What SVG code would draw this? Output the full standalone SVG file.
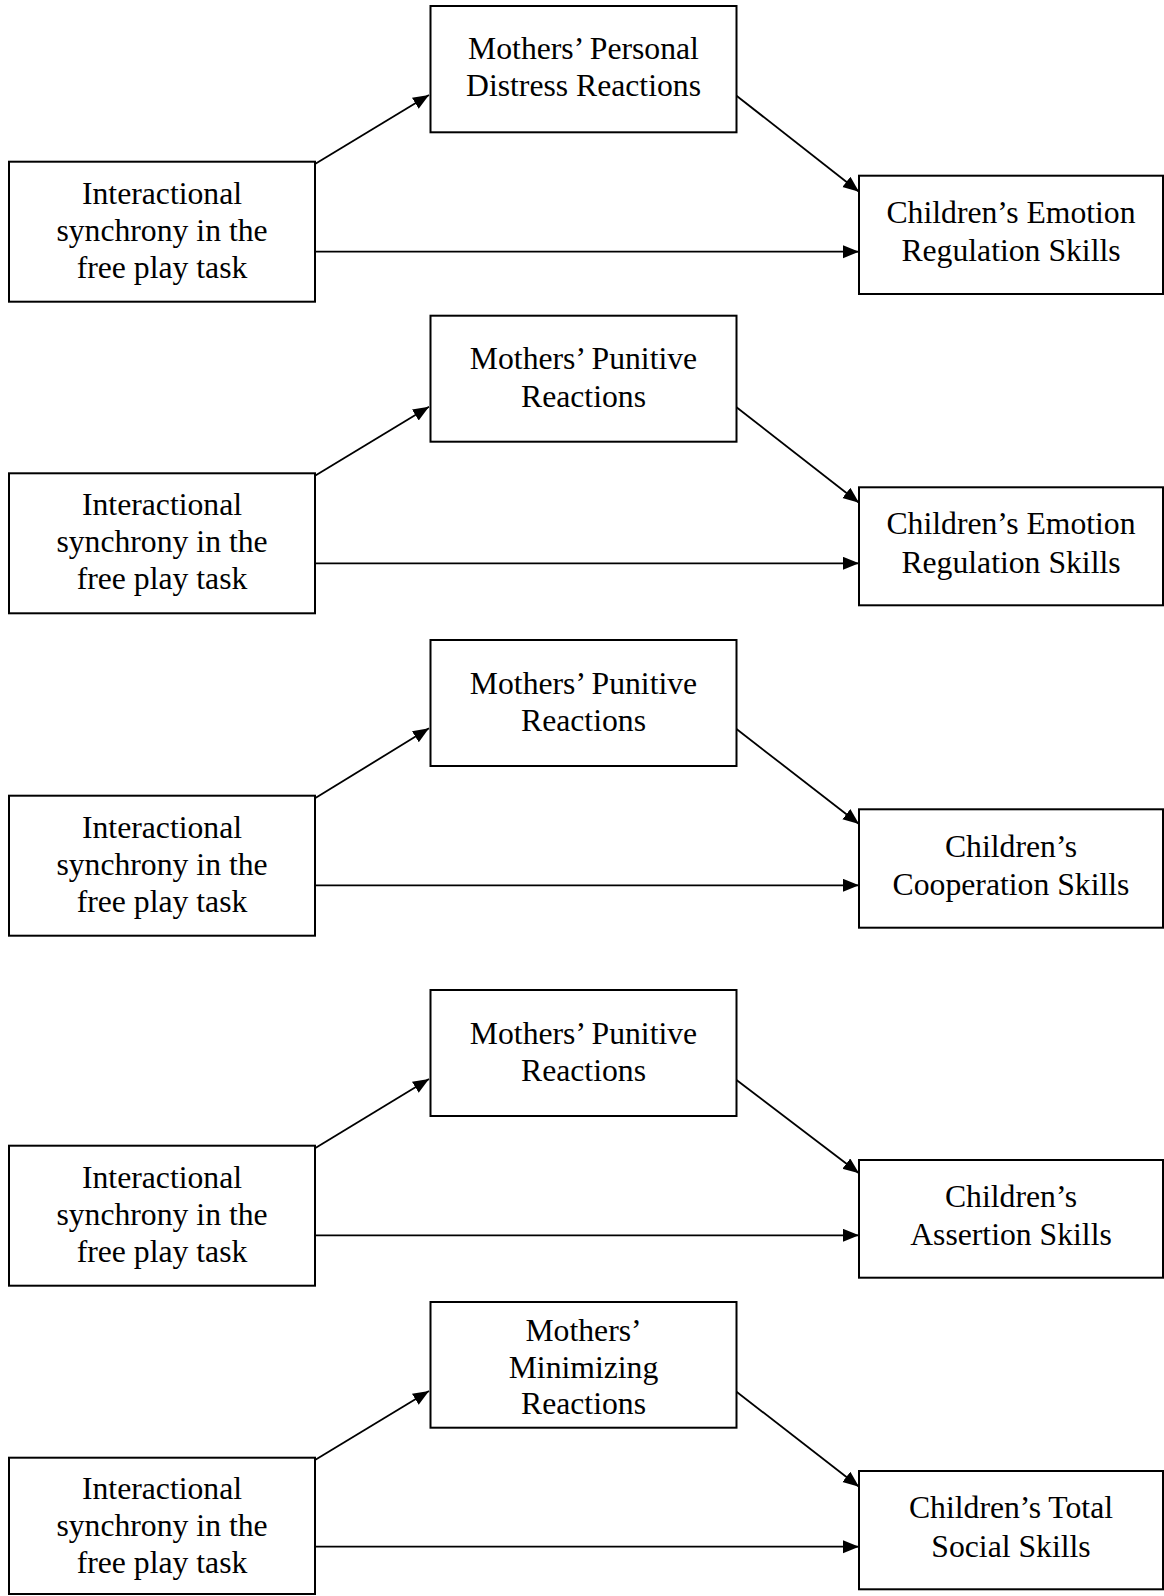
<svg xmlns="http://www.w3.org/2000/svg" width="1164" height="1596" viewBox="0 0 1164 1596">
<style>
  .box { fill: #ffffff; stroke: #000000; stroke-width: 2; }
  .lbl { font-family: "Liberation Serif", "Times New Roman", serif; font-size: 31.7px; fill: #000000; text-anchor: middle; }
  .conn { stroke: #000000; stroke-width: 1.8; fill: none; marker-end: url(#arr); }
</style>
<defs>
  <marker id="arr" markerUnits="userSpaceOnUse" markerWidth="16" markerHeight="14" refX="16" refY="6.5" orient="auto">
    <path d="M0,0 L16,6.5 L0,13 z" fill="#000000"/>
  </marker>
</defs>
<rect width="1164" height="1596" fill="#ffffff"/>

<g id="connectors">
  <line class="conn" x1="315" y1="164" x2="429" y2="95"/>
  <line class="conn" x1="736.5" y1="95.7" x2="859" y2="191.7"/>
  <line class="conn" x1="315" y1="251.7" x2="859" y2="251.7"/>

  <line class="conn" x1="315" y1="475.7" x2="429" y2="406.7"/>
  <line class="conn" x1="736.5" y1="407.3" x2="859" y2="502.7"/>
  <line class="conn" x1="315" y1="563.3" x2="859" y2="563.3"/>

  <line class="conn" x1="315" y1="798.3" x2="429" y2="728.3"/>
  <line class="conn" x1="736.5" y1="729" x2="859" y2="824"/>
  <line class="conn" x1="315" y1="885.3" x2="859" y2="885.3"/>

  <line class="conn" x1="315" y1="1148.3" x2="429" y2="1079"/>
  <line class="conn" x1="736.5" y1="1080" x2="859" y2="1173.3"/>
  <line class="conn" x1="315" y1="1235.3" x2="859" y2="1235.3"/>

  <line class="conn" x1="315" y1="1460" x2="429" y2="1391"/>
  <line class="conn" x1="736.5" y1="1391.7" x2="859" y2="1486.7"/>
  <line class="conn" x1="315" y1="1546.7" x2="859" y2="1546.7"/>
</g>

<!-- Block 1 -->
<g id="sync1">
  <rect class="box" x="9" y="161.7" width="306" height="140"/>
  <text class="lbl" x="162" y="204">Interactional</text>
  <text class="lbl" x="162" y="241">synchrony in the</text>
  <text class="lbl" x="162" y="278">free play task</text>
</g>
<g id="mother1">
  <rect class="box" x="430.5" y="6" width="306" height="126.3"/>
  <text class="lbl" x="583.5" y="58.5">Mothers’ Personal</text>
  <text class="lbl" x="583.5" y="95.5">Distress Reactions</text>
</g>
<g id="child1">
  <rect class="box" x="859" y="175.7" width="304" height="118.3"/>
  <text class="lbl" x="1011" y="222.5">Children’s Emotion</text>
  <text class="lbl" x="1011" y="260.5">Regulation Skills</text>
</g>

<!-- Block 2 -->
<g id="sync2">
  <rect class="box" x="9" y="473.3" width="306" height="140"/>
  <text class="lbl" x="162" y="515">Interactional</text>
  <text class="lbl" x="162" y="552">synchrony in the</text>
  <text class="lbl" x="162" y="589">free play task</text>
</g>
<g id="mother2">
  <rect class="box" x="430.5" y="315.7" width="306" height="126"/>
  <text class="lbl" x="583.5" y="369.3">Mothers’ Punitive</text>
  <text class="lbl" x="583.5" y="406.5">Reactions</text>
</g>
<g id="child2">
  <rect class="box" x="859" y="487.3" width="304" height="118"/>
  <text class="lbl" x="1011" y="534">Children’s Emotion</text>
  <text class="lbl" x="1011" y="572.5">Regulation Skills</text>
</g>

<!-- Block 3 -->
<g id="sync3">
  <rect class="box" x="9" y="795.7" width="306" height="140"/>
  <text class="lbl" x="162" y="837.5">Interactional</text>
  <text class="lbl" x="162" y="874.5">synchrony in the</text>
  <text class="lbl" x="162" y="911.5">free play task</text>
</g>
<g id="mother3">
  <rect class="box" x="430.5" y="640" width="306" height="126"/>
  <text class="lbl" x="583.5" y="693.5">Mothers’ Punitive</text>
  <text class="lbl" x="583.5" y="730.5">Reactions</text>
</g>
<g id="child3">
  <rect class="box" x="859" y="809.3" width="304" height="118.4"/>
  <text class="lbl" x="1011" y="856.7">Children’s</text>
  <text class="lbl" x="1011" y="895">Cooperation Skills</text>
</g>

<!-- Block 4 -->
<g id="sync4">
  <rect class="box" x="9" y="1145.7" width="306" height="140"/>
  <text class="lbl" x="162" y="1187.5">Interactional</text>
  <text class="lbl" x="162" y="1224.5">synchrony in the</text>
  <text class="lbl" x="162" y="1261.5">free play task</text>
</g>
<g id="mother4">
  <rect class="box" x="430.5" y="990" width="306" height="126"/>
  <text class="lbl" x="583.5" y="1043.5">Mothers’ Punitive</text>
  <text class="lbl" x="583.5" y="1080.5">Reactions</text>
</g>
<g id="child4">
  <rect class="box" x="859" y="1160" width="304" height="117.7"/>
  <text class="lbl" x="1011" y="1206.7">Children’s</text>
  <text class="lbl" x="1011" y="1244.5">Assertion Skills</text>
</g>

<!-- Block 5 -->
<g id="sync5">
  <rect class="box" x="9" y="1457.7" width="306" height="136.3"/>
  <text class="lbl" x="162" y="1499">Interactional</text>
  <text class="lbl" x="162" y="1536">synchrony in the</text>
  <text class="lbl" x="162" y="1573">free play task</text>
</g>
<g id="mother5">
  <rect class="box" x="430.5" y="1302" width="306" height="125.7"/>
  <text class="lbl" x="583.5" y="1341">Mothers’</text>
  <text class="lbl" x="583.5" y="1377.5">Minimizing</text>
  <text class="lbl" x="583.5" y="1414.3">Reactions</text>
</g>
<g id="child5">
  <rect class="box" x="859" y="1471" width="304" height="118.3"/>
  <text class="lbl" x="1011" y="1518.3">Children’s Total</text>
  <text class="lbl" x="1011" y="1556.7">Social Skills</text>
</g>
</svg>
